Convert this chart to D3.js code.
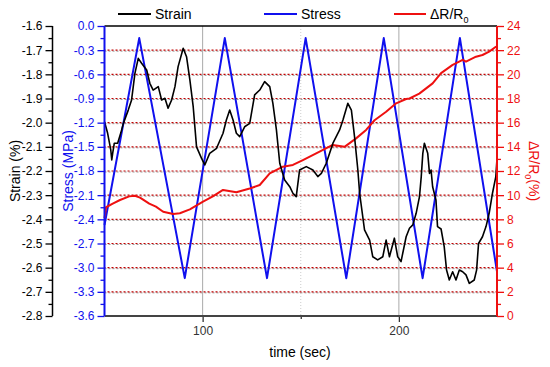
<!DOCTYPE html>
<html><head><meta charset="utf-8">
<script src="https://cdn.jsdelivr.net/npm/d3@7"></script>
<style>body{margin:0;background:#fff}svg{display:block;font-family:"Liberation Sans",Arial,sans-serif}</style>
</head><body><svg id="c" width="550" height="367"></svg>
<script>
// ---- data ----
const strainTime = [50,51.6,53.2,53.7,54.2,55,56.7,58.4,59.6,62.1,63.8,65.5,67.2,68.9,71.5,73.1,74.8,77.4,79.1,80.8,82.4,84.2,85.9,87.5,90.1,91.8,93.5,95.2,96.9,99.4,101.1,103.6,107.1,110.4,112.1,113.8,115.5,117.2,118.9,121.4,124,126.5,129.1,131.6,134.2,135.8,137.6,139.3,141.8,144.4,146,147.7,149.4,152.8,156.2,158.7,160.5,163,166.4,169.8,171.5,174,175.8,177.4,179.1,180,182.5,185.1,186.7,189.2,191.8,193.5,195.2,197.7,199.4,201.1,203.7,205.4,207.1,208.8,210.5,211.4,212.2,213,214.7,215.6,216.4,217.2,218.9,219.7,221.5,223.1,224.3,225.7,227.4,229.1,230.8,232.5,234.2,235.9,238.4,239.6,240.6,242.6,244.4,246,247.7,249.4,250];
const strainVal = [-1.996,-2.044,-2.113,-2.154,-2.125,-2.085,-2.085,-2.04,-2.003,-1.948,-1.906,-1.796,-1.734,-1.754,-1.782,-1.837,-1.865,-1.851,-1.906,-1.899,-1.94,-1.906,-1.851,-1.768,-1.692,-1.727,-1.823,-1.934,-2.1,-2.147,-2.175,-2.127,-2.106,-2.044,-1.989,-1.948,-1.989,-2.044,-2.058,-2.017,-2.003,-1.885,-1.865,-1.83,-1.851,-1.92,-2.03,-2.168,-2.237,-2.265,-2.292,-2.306,-2.196,-2.182,-2.196,-2.223,-2.21,-2.168,-2.085,-2.03,-1.989,-1.92,-1.948,-2.058,-2.196,-2.292,-2.444,-2.486,-2.555,-2.568,-2.555,-2.486,-2.555,-2.478,-2.555,-2.575,-2.472,-2.437,-2.423,-2.375,-2.306,-2.223,-2.127,-2.085,-2.127,-2.21,-2.196,-2.265,-2.32,-2.43,-2.44,-2.513,-2.61,-2.651,-2.617,-2.651,-2.61,-2.617,-2.63,-2.665,-2.651,-2.61,-2.5,-2.472,-2.43,-2.375,-2.292,-2.223,-2.15];
const stressTime = [50,67.7,90.9,111.3,132.8,152.5,173.2,192.3,212.1,231.1,250];
const stressVal = [-2.47,-0.15,-3.13,-0.15,-3.13,-0.15,-3.13,-0.15,-3.13,-0.15,-3.05];
const drTime = [50,50.8,54.2,57.9,62.6,65.5,68.1,72.8,76.2,79.9,85,88.4,93.5,100.2,105.2,110.4,117.2,124,129.1,134.2,140.9,146,151.1,159.6,166.3,172.3,178.2,183.3,187.6,193.5,198.6,203.7,205.4,210.4,217.2,221.5,227.4,232.5,234.2,239.3,242.6,246,249.6];
const drVal = [8.1,9.0,9.3,9.6,9.9,9.95,9.8,9.3,9.05,8.63,8.44,8.5,8.83,9.46,9.9,10.43,10.24,10.55,10.84,11.8,12.36,12.5,12.9,13.6,14.16,14.0,14.7,15.4,16.2,16.9,17.6,17.96,18.0,18.4,19.25,20.1,20.78,21.2,21.05,21.46,21.6,21.88,22.3];
const xTicks = [100,200];
const xMinorTicks = [150];
const strainTicks = [-1.6,-1.7,-1.8,-1.9,-2.0,-2.1,-2.2,-2.3,-2.4,-2.5,-2.6,-2.7,-2.8];
const stressTicks = [0,-0.3,-0.6,-0.9,-1.2,-1.5,-1.8,-2.1,-2.4,-2.7,-3.0,-3.3,-3.6];
const drTicks = [0,2,4,6,8,10,12,14,16,18,20,22,24];

// ---- layout ----
const L=104.5, R=497, T=26, B=316;
const svg = d3.select("#c");
const x = d3.scaleLinear().domain([50,250]).range([L,R]);
const yS = d3.scaleLinear().domain([-2.8,-1.6]).range([B,T]);
const yP = d3.scaleLinear().domain([-3.6,0]).range([B,T]);
const yR = d3.scaleLinear().domain([0,24]).range([B,T]);
const blue="#1010ee", red="#ee1010";

// gridlines
const g = svg.append("g");
stressTicks.filter(v=>v<0 && v>-3.6).forEach(v=>{
  const yy = yP(v);
  g.append("line").attr("x1",L).attr("x2",R).attr("y1",yy+1).attr("y2",yy+1)
    .attr("stroke","#999").attr("stroke-width",1).attr("stroke-dasharray","2,2");
  g.append("line").attr("x1",L).attr("x2",R).attr("y1",yy).attr("y2",yy)
    .attr("stroke","#c00000").attr("stroke-width",1.2).attr("stroke-dasharray","2,2").attr("stroke-dashoffset",1);
});
xTicks.forEach(v=>g.append("line").attr("x1",x(v)).attr("x2",x(v)).attr("y1",T).attr("y2",B).attr("stroke","#aaa"));
xMinorTicks.forEach(v=>g.append("line").attr("x1",x(v)).attr("x2",x(v)).attr("y1",T).attr("y2",B).attr("stroke","#ccc").attr("stroke-dasharray","1,2"));

// lines
const mk = (xs,ys,sy)=>d3.line().x((d,i)=>x(xs[i])).y(d=>sy(d))(ys);
svg.append("path").attr("d",mk(stressTime,stressVal,yP)).attr("fill","none").attr("stroke",blue).attr("stroke-width",2).attr("stroke-linejoin","round");
svg.append("path").attr("d",mk(drTime,drVal,yR)).attr("fill","none").attr("stroke",red).attr("stroke-width",2).attr("stroke-linejoin","round");
svg.append("path").attr("d",mk(strainTime,strainVal,yS)).attr("fill","none").attr("stroke","#000").attr("stroke-width",1.6).attr("stroke-linejoin","round");

// frame
svg.append("line").attr("x1",L).attr("x2",R).attr("y1",T).attr("y2",T).attr("stroke","#000").attr("stroke-width",1.5);

// axes
function styleAxis(sel,color,fs){
  sel.selectAll("path.domain").remove();
  sel.selectAll("line").attr("stroke",color).attr("stroke-width",1.3);
  sel.selectAll("text").attr("fill",color).style("font-size",fs+"px").style("font-family","'Liberation Sans',Arial,sans-serif");
}
// bottom
const xa = svg.append("g").attr("transform",`translate(0,${B})`)
  .call(d3.axisBottom(x).tickValues(xTicks).tickSize(6).tickFormat(d3.format("d")).tickPadding(4));
styleAxis(xa,"#333",12);
const xm = svg.append("g").attr("transform",`translate(0,${B})`)
  .call(d3.axisBottom(x).tickValues(xMinorTicks).tickSize(3).tickFormat(""));
styleAxis(xm,"#333",12);
svg.append("line").attr("x1",L).attr("x2",R).attr("y1",B).attr("y2",B).attr("stroke","#444").attr("stroke-width",2);

// strain axis
const sx = 52.5;
const sa = svg.append("g").attr("transform",`translate(${sx},0)`)
  .call(d3.axisLeft(yS).tickValues(strainTicks).tickSize(7).tickPadding(3).tickFormat(d=>d.toFixed(1)));
styleAxis(sa,"#000",12);
const sm = svg.append("g").attr("transform",`translate(${sx},0)`)
  .call(d3.axisLeft(yS).tickValues(strainTicks.slice(0,-1).map(v=>v-0.05)).tickSize(4).tickFormat(""));
styleAxis(sm,"#000",12);
svg.append("line").attr("x1",sx).attr("x2",sx).attr("y1",T).attr("y2",B).attr("stroke","#000").attr("stroke-width",1.5);

// stress axis
const pa = svg.append("g").attr("transform",`translate(${L},0)`)
  .call(d3.axisLeft(yP).tickValues(stressTicks).tickSize(7).tickPadding(3).tickFormat(d=>d.toFixed(1)));
styleAxis(pa,blue,12);
const pm = svg.append("g").attr("transform",`translate(${L},0)`)
  .call(d3.axisLeft(yP).tickValues(stressTicks.slice(0,-1).map(v=>v-0.15)).tickSize(4).tickFormat(""));
styleAxis(pm,blue,12);
svg.append("line").attr("x1",L).attr("x2",L).attr("y1",T).attr("y2",B).attr("stroke",blue).attr("stroke-width",2);

// dR axis
const ra = svg.append("g").attr("transform",`translate(${R},0)`)
  .call(d3.axisRight(yR).tickValues(drTicks).tickSize(7).tickPadding(3).tickFormat(d3.format("d")));
styleAxis(ra,red,12);
const rm = svg.append("g").attr("transform",`translate(${R},0)`)
  .call(d3.axisRight(yR).tickValues(drTicks.slice(0,-1).map(v=>v+1)).tickSize(4).tickFormat(""));
styleAxis(rm,red,12);
svg.append("line").attr("x1",R).attr("x2",R).attr("y1",T).attr("y2",B).attr("stroke",red).attr("stroke-width",2);

// titles
const F="'Liberation Sans',Arial,sans-serif";
svg.append("text").attr("x",300).attr("y",357).attr("text-anchor","middle").style("font-size","14px").style("font-family",F).attr("fill","#000").text("time (sec)");
svg.append("text").attr("transform","translate(20,171) rotate(-90)").attr("text-anchor","middle").style("font-size","14px").style("font-family",F).attr("fill","#000").text("Strain (%)");
svg.append("text").attr("transform","translate(73,171) rotate(-90)").attr("text-anchor","middle").style("font-size","14px").style("font-family",F).attr("fill",blue).text("Stress (MPa)");
const rt = svg.append("text").attr("transform","translate(529,171) rotate(90)").attr("text-anchor","middle").style("font-size","14px").style("font-family",F).attr("fill",red);
rt.append("tspan").text("ΔR/R");
rt.append("tspan").attr("dy",4).style("font-size","9px").text("0");
rt.append("tspan").attr("dy",-4).text("(%)");

// legend
const legend = [
  {name:"Strain", color:"#000", x1:118, x2:151},
  {name:"Stress", color:blue, x1:264, x2:297},
  {name:"ΔR/R", color:red, x1:394, x2:426, sub:"0"}
];
legend.forEach(d=>{
  svg.append("line").attr("x1",d.x1).attr("x2",d.x2).attr("y1",14).attr("y2",14).attr("stroke",d.color).attr("stroke-width",2);
  const t = svg.append("text").attr("x",d.x2+4).attr("y",19).style("font-size","14px").style("font-family",F).attr("fill","#000");
  t.append("tspan").text(d.name);
  if(d.sub) t.append("tspan").attr("dy",4).style("font-size","9px").text(d.sub);
});
</script></body></html>
